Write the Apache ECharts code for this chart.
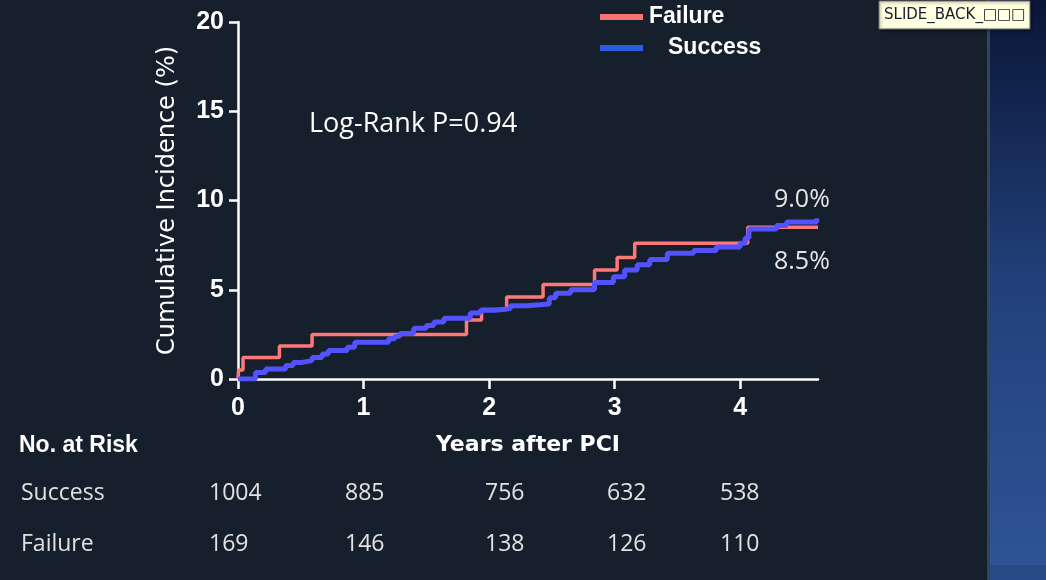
<!DOCTYPE html>
<html>
<head>
<meta charset="utf-8">
<script src="https://cdn.jsdelivr.net/npm/echarts@6/dist/echarts.min.js"></script>
<style>
  html, body { margin: 0; padding: 0; background: #161f2c; }
  #chart { width: 1046px; height: 580px; }
</style>
</head>
<body>
<div id="chart"></div>
<script>
// Kaplan-Meier style cumulative incidence, two groups
const yearTicks = [0, 1, 2, 3, 4];

const failureTimes  = [0, 0.005, 0.04, 0.33, 0.59, 1.82, 1.94, 2.14, 2.43, 2.84, 3.02, 3.16, 4.06, 4.62];
const failureValues = [0, 0.5, 1.2, 1.85, 2.5, 3.3, 3.9, 4.6, 5.3, 6.1, 6.8, 7.6, 8.5, 8.5];

const successTimes  = [0, 0.14, 0.22, 0.38, 0.44, 0.51, 0.59, 0.67, 0.72, 0.87, 0.93, 1.20, 1.25, 1.29,
                       1.40, 1.50, 1.56, 1.64, 1.85, 1.93, 2.05, 2.17, 2.30, 2.48, 2.53, 2.65, 2.84,
                       2.99, 3.08, 3.18, 3.28, 3.42, 3.63, 3.81, 4.00, 4.04, 4.07, 4.29, 4.37, 4.61];
const successValues = [0, 0.37, 0.56, 0.75, 0.93, 1.03, 1.21, 1.40, 1.59, 1.78, 2.06, 2.25, 2.40, 2.55,
                       2.85, 3.0, 3.2, 3.4, 3.7, 3.85, 3.95, 4.1, 4.2, 4.55, 4.8, 5.0, 5.4,
                       5.73, 6.1, 6.4, 6.7, 7.04, 7.2, 7.4, 7.6, 7.9, 8.4, 8.6, 8.8, 9.0];

const riskGroups   = ['Success', 'Failure'];
const riskSuccess  = [1004, 885, 756, 632, 538];
const riskFailure  = [169, 146, 138, 126, 110];
const pValueText   = 'Log-Rank P=0.94';

const RED = '#ff7878';
const BLUE = '#5252ff';

const pairs = (ts, vs) => ts.map((t, i) => [t, vs[i]]);
const failureData = pairs(failureTimes, failureValues);
const successData = pairs(successTimes, successValues);

const chart = echarts.init(document.getElementById('chart'), null, { renderer: 'canvas' });

chart.setOption({
  backgroundColor: '#161f2c',
  animation: false,
  grid: { left: 238, right: 228, top: 22, bottom: 201 },
  xAxis: {
    type: 'value', min: 0, max: 4.62, interval: 1,
    name: 'Years after PCI', nameLocation: 'middle', nameGap: 55,
    nameTextStyle: { color: '#ffffff', fontFamily: 'DejaVu Sans', fontWeight: 'bold', fontSize: 22 },
    axisLine: { show: true, onZero: false, lineStyle: { color: '#ffffff', width: 2.5 } },
    axisTick: { show: true, inside: false, length: 10, customValues: yearTicks, lineStyle: { color: '#ffffff', width: 2.5 } },
    axisLabel: { color: '#ffffff', fontFamily: 'Liberation Sans', fontWeight: 'bold', fontSize: 25, margin: 17,
                 customValues: yearTicks },
    splitLine: { show: false }
  },
  yAxis: {
    type: 'value', min: 0, max: 20, interval: 5,
    name: 'Cumulative Incidence (%)', nameLocation: 'middle', nameGap: 58,
    nameTextStyle: { color: '#ffffff', fontFamily: 'DejaVu Sans', fontSize: 24 },
    axisLine: { show: true, lineStyle: { color: '#ffffff', width: 2.5 } },
    axisTick: { show: true, inside: false, length: 9, lineStyle: { color: '#ffffff', width: 2.5 } },
    axisLabel: { color: '#ffffff', fontFamily: 'Liberation Sans', fontWeight: 'bold', fontSize: 25, margin: 14 },
    splitLine: { show: false }
  },
  series: [
    {
      name: 'Failure', type: 'line', step: 'end', data: failureData,
      showSymbol: false, lineStyle: { color: RED, width: 3.5 }, itemStyle: { color: RED }, z: 2
    },
    {
      name: 'Success', type: 'line', step: 'end',
      data: successData.map((p, i) => i === successData.length - 1
        ? { value: p, symbol: 'circle', symbolSize: 7, showSymbol: true } : p),
      showSymbol: false, showAllSymbol: true, symbol: 'none',
      lineStyle: { color: BLUE, width: 5 }, itemStyle: { color: BLUE }, z: 3
    }
  ]
});

// Everything around the plot: legend, annotations, risk table, side panel
const graphics = [];

// side panel on the right
graphics.push({
  type: 'rect', shape: { x: 990, y: 0, width: 56, height: 580 }, silent: true,
  style: { fill: new echarts.graphic.LinearGradient(0, 0, 0, 1, [
    { offset: 0, color: '#0a1636' }, { offset: 0.5, color: '#22417c' }, { offset: 1, color: '#2f5596' }]) }
});
graphics.push({
  type: 'rect', shape: { x: 987, y: 0, width: 3, height: 580 }, silent: true,
  style: { fill: '#34445c' }
});
graphics.push({
  type: 'rect', shape: { x: 990, y: 565, width: 56, height: 15 }, silent: true,
  style: { fill: '#284a86' }
});

// tooltip box at top right
graphics.push({
  type: 'rect', shape: { x: 879, y: 1, width: 151, height: 28 }, silent: true,
  style: { fill: '#ffffe1', stroke: '#6e6e6e', lineWidth: 1, shadowBlur: 3, shadowColor: 'rgba(0,0,0,0.5)', shadowOffsetX: 1, shadowOffsetY: 1 }
});
graphics.push({
  type: 'text', x: 884, y: 15, silent: true,
  style: { text: 'SLIDE_BACK_\u25A1\u25A1\u25A1', fill: '#1c1c30', font: '15px "DejaVu Sans"', textVerticalAlign: 'middle' }
});

// legend
const legendItems = [
  { name: 'Failure', color: '#f47272', y: 17, textX: 649 },
  { name: 'Success', color: '#2b5be0', y: 48, textX: 668 }
];
legendItems.forEach(it => {
  graphics.push({ type: 'rect', shape: { x: 600, y: it.y - 3, width: 43, height: 6 }, silent: true, style: { fill: it.color } });
  graphics.push({ type: 'text', x: it.textX, y: it.y, silent: true,
    style: { text: it.name, fill: '#ffffff', font: 'bold 23px "Liberation Sans"', textVerticalAlign: 'middle' } });
});

// log-rank annotation
graphics.push({ type: 'text', x: 309, y: 124, silent: true,
  style: { text: pValueText, fill: '#ffffff', font: '27px "Open Sans"', textVerticalAlign: 'middle' } });

// final cumulative incidence labels
const lastSuccess = successValues[successValues.length - 1];
const lastFailure = failureValues[failureValues.length - 1];
graphics.push({ type: 'text', x: 774, y: 200, silent: true,
  style: { text: lastSuccess.toFixed(1) + '%', fill: '#e6e6e6', font: '25px "Open Sans"', textVerticalAlign: 'middle' } });
graphics.push({ type: 'text', x: 774, y: 262, silent: true,
  style: { text: lastFailure.toFixed(1) + '%', fill: '#e6e6e6', font: '25px "Open Sans"', textVerticalAlign: 'middle' } });

// number at risk table (left-aligned columns under each year)
graphics.push({ type: 'text', x: 19, y: 446, silent: true,
  style: { text: 'No. at Risk', fill: '#ffffff', font: 'bold 23px "Liberation Sans"', textVerticalAlign: 'middle' } });
const rowY = [493, 544];
const colX = [209, 345, 485, 607, 720];
[riskSuccess, riskFailure].forEach((row, r) => {
  graphics.push({ type: 'text', x: 21, y: rowY[r], silent: true,
    style: { text: riskGroups[r], fill: '#e2e2e2', font: '23px "Open Sans"', textVerticalAlign: 'middle' } });
  row.forEach((n, i) => {
    graphics.push({ type: 'text', x: colX[i], y: rowY[r], silent: true,
      style: { text: String(n), fill: '#e2e2e2', font: '23px "Open Sans"', textAlign: 'left', textVerticalAlign: 'middle' } });
  });
});

chart.setOption({ graphic: graphics });
</script>
</body>
</html>
